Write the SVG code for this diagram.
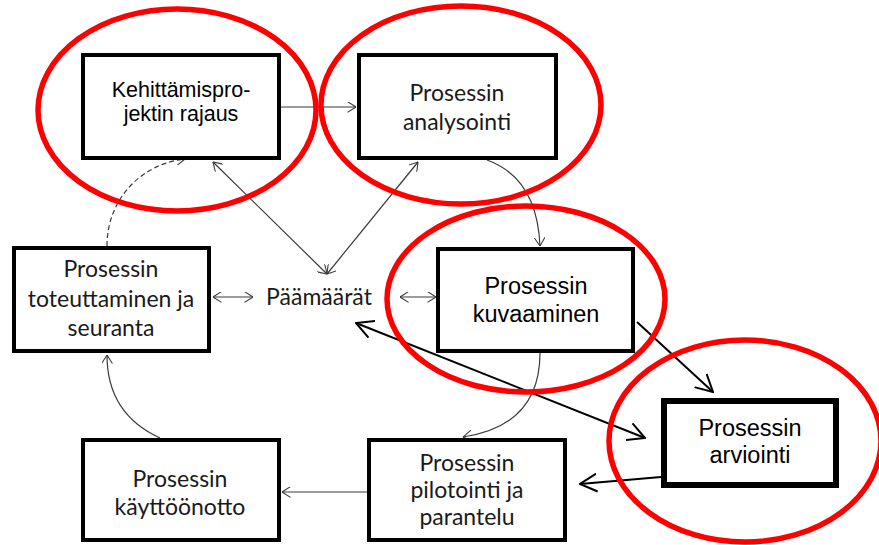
<svg xmlns="http://www.w3.org/2000/svg" width="879" height="545" viewBox="0 0 879 545">
  <style>
    .box { fill: #fff; stroke: #000; stroke-width: 4; }
    .box-heavy { fill: #fff; stroke: #000; stroke-width: 6; }
    .arial { font-family: "Liberation Sans", Arial, sans-serif; fill: #000; text-anchor: middle; }
    .cal { font-family: Lato, "Open Sans", sans-serif; fill: #1a1a1a; text-anchor: middle; font-size: 23px; }
    .thin { fill: none; stroke: #3a3a3a; stroke-width: 1.2; }
    .bold { fill: none; stroke: #000; stroke-width: 2; }
    .ring { fill: none; stroke: #ff0000; stroke-width: 5.5; }
  </style>
  <defs>
    <marker id="thinHead" viewBox="0 0 10 12" refX="9.5" refY="6" markerWidth="9" markerHeight="11" markerUnits="userSpaceOnUse" orient="auto-start-reverse">
      <path d="M0,0 L9.5,6 L0,12" fill="none" stroke="#3a3a3a" stroke-width="1.2"/>
    </marker>
    <marker id="boldHead" viewBox="0 0 18 20" refX="17" refY="10" markerWidth="18" markerHeight="20" markerUnits="userSpaceOnUse" orient="auto-start-reverse">
      <path d="M0,1 L17,10 L0,19" fill="none" stroke="#000" stroke-width="2"/>
    </marker>
  </defs>

  <rect width="879" height="545" fill="#fff"/>

  <!-- connectors -->
  <g id="connectors">
    <line class="thin" x1="281" y1="107" x2="356" y2="107" marker-end="url(#thinHead)"/>
    <path class="thin" d="M487,160 Q537,178 540,246" marker-end="url(#thinHead)"/>
    <path class="thin" d="M540,353 C540,405 510,430 463,437" marker-end="url(#thinHead)"/>
    <line class="thin" x1="367" y1="492" x2="282" y2="492" marker-end="url(#thinHead)"/>
    <path class="thin" d="M160,438 C125,422 107,395 107,355" marker-end="url(#thinHead)"/>
    <path class="thin" d="M107,246 C107,200 140,164 185,159" stroke-dasharray="5,3" marker-end="url(#thinHead)"/>
    <line class="thin" x1="213" y1="162" x2="327" y2="274" marker-start="url(#thinHead)" marker-end="url(#thinHead)"/>
    <line class="thin" x1="418" y1="162" x2="327" y2="274" marker-start="url(#thinHead)" marker-end="url(#thinHead)"/>
    <line class="thin" x1="213" y1="297" x2="253" y2="297" marker-start="url(#thinHead)" marker-end="url(#thinHead)"/>
    <line class="thin" x1="400" y1="297" x2="436" y2="297" marker-start="url(#thinHead)" marker-end="url(#thinHead)"/>
    <line class="bold" x1="637" y1="322" x2="713" y2="392" marker-end="url(#boldHead)"/>
    <line class="bold" x1="356" y1="323" x2="645" y2="438" marker-start="url(#boldHead)" marker-end="url(#boldHead)"/>
    <line class="bold" x1="661" y1="477" x2="580" y2="484" marker-end="url(#boldHead)"/>
  </g>

  <g id="rajaus">
    <rect class="box" x="83" y="55" width="196" height="103"/>
    <text class="arial" font-size="21.5"><tspan x="181" y="97">Kehittämispro-</tspan><tspan x="181" y="121">jektin rajaus</tspan></text>
  </g>

  <g id="analysointi">
    <rect class="box" x="359" y="55" width="197" height="103"/>
    <text class="cal"><tspan x="457" y="101">Prosessin</tspan><tspan x="457" y="130">analysointi</tspan></text>
  </g>

  <g id="kuvaaminen">
    <rect class="box" x="438" y="249" width="195" height="102"/>
    <text class="arial" font-size="23.5"><tspan x="536" y="294">Prosessin</tspan><tspan x="536" y="322">kuvaaminen</tspan></text>
  </g>

  <g id="arviointi">
    <rect class="box-heavy" x="664" y="401" width="172" height="84"/>
    <text class="arial" font-size="23.5"><tspan x="750" y="436">Prosessin</tspan><tspan x="750" y="463">arviointi</tspan></text>
  </g>

  <g id="pilotointi">
    <rect class="box" x="369" y="440" width="196" height="100"/>
    <text class="cal"><tspan x="467" y="471">Prosessin</tspan><tspan x="467" y="498">pilotointi ja</tspan><tspan x="467" y="525">parantelu</tspan></text>
  </g>

  <g id="kayttoonotto">
    <rect class="box" x="83" y="440" width="196" height="100"/>
    <text class="cal"><tspan x="180" y="487">Prosessin</tspan><tspan x="180" y="515">käyttöönotto</tspan></text>
  </g>

  <g id="toteuttaminen">
    <rect class="box" x="14" y="248" width="195" height="103"/>
    <text class="cal"><tspan x="111" y="277">Prosessin</tspan><tspan x="111" y="307">toteuttaminen ja</tspan><tspan x="111" y="336">seuranta</tspan></text>
  </g>

  <g id="paamaarat">
    <text class="cal" x="319" y="305">Päämäärät</text>
  </g>

  <!-- red highlight rings -->
  <g id="rings">
    <ellipse class="ring" cx="177" cy="110" rx="139" ry="101"/>
    <ellipse class="ring" cx="461" cy="105" rx="140" ry="99"/>
    <ellipse class="ring" cx="526" cy="299" rx="139" ry="93"/>
    <ellipse class="ring" cx="745" cy="441" rx="136" ry="101"/>
  </g>
</svg>
